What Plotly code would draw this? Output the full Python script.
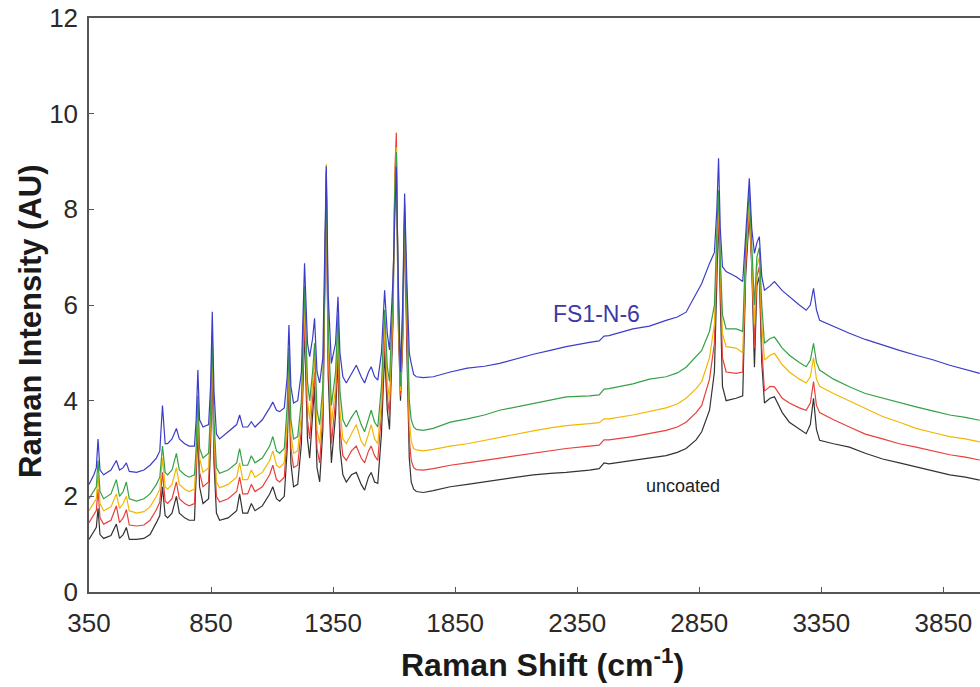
import plotly.graph_objects as go

# Raman shift grid (cm^-1)
shift = [350, 370, 380, 387, 395, 410, 440, 462, 475, 490, 503, 515, 545, 575, 600, 626, 640, 651, 662, 672,
         690, 708, 720, 742, 760, 782, 789, 796, 803, 817, 840, 848, 855, 862, 872, 885, 920, 955, 967, 980,
         1000, 1015, 1030, 1060, 1090, 1103, 1118, 1131, 1150, 1162, 1169, 1177, 1188, 1205, 1220, 1233, 1245, 1254, 1266, 1274,
         1284, 1295, 1308, 1316, 1322, 1330, 1343, 1360, 1370, 1378, 1390, 1404, 1425, 1445, 1465, 1479, 1495, 1506, 1520, 1533,
         1548, 1561, 1572, 1581, 1595, 1603, 1609, 1617, 1626, 1635, 1643, 1652, 1662, 1670, 1680, 1691, 1720, 1760, 1830, 1900,
         1970, 2032, 2100, 2170, 2240, 2305, 2400, 2440, 2460, 2480, 2578, 2646, 2714, 2760, 2796, 2837, 2860, 2892, 2912, 2922,
         2929, 2936, 2945, 2960, 3001, 3028, 3040, 3055, 3065, 3076, 3086, 3096, 3106, 3117, 3140, 3158, 3190, 3219, 3260, 3288,
         3305, 3318, 3330, 3343, 3400, 3465, 3530, 3601, 3670, 3738, 3810, 3876, 3940, 3999]

fs1_n_6 = [2.25, 2.45, 2.6, 3.2, 2.55, 2.45, 2.55, 2.75, 2.55, 2.6, 2.7, 2.52, 2.5, 2.55, 2.65, 2.8, 2.95, 3.9, 3.1, 3.1,
           3.2, 3.42, 3.2, 3.1, 3.05, 3.05, 3.6, 4.64, 3.6, 3.45, 3.5, 4.3, 5.86, 4.2, 3.3, 3.2, 3.35, 3.5, 3.7, 3.45,
           3.45, 3.56, 3.45, 3.6, 3.85, 3.97, 3.8, 3.77, 3.85, 4.5, 5.58, 4.3, 3.95, 4.0, 4.6, 6.87, 5.2, 4.92, 5.3, 5.72,
           4.6, 4.37, 4.9, 7.0, 8.9, 6.2, 4.78, 5.2, 6.17, 5.0, 4.5, 4.37, 4.55, 4.74, 4.5, 4.37, 4.6, 4.71, 4.5, 4.43,
           5.0, 6.31, 5.4, 5.06, 6.5, 8.2, 8.89, 6.5, 4.6, 6.0, 8.33, 6.5, 5.0, 4.78, 4.55, 4.5, 4.48, 4.5, 4.6, 4.68,
           4.72, 4.78, 4.88, 4.97, 5.05, 5.13, 5.22, 5.25, 5.35, 5.36, 5.5, 5.56, 5.68, 5.75, 5.85, 6.25, 6.45, 6.87, 7.1, 8.0,
           9.07, 7.6, 6.8, 6.7, 6.59, 6.49, 7.5, 8.65, 7.6, 7.08, 7.3, 7.43, 6.6, 6.31, 6.4, 6.49, 6.3, 6.17, 6.0, 5.89,
           6.0, 6.35, 5.9, 5.68, 5.55, 5.41, 5.28, 5.16, 5.05, 4.95, 4.85, 4.74, 4.65, 4.57]

green = [1.95, 2.1, 2.2, 2.75, 2.1, 1.95, 2.05, 2.35, 2.0, 2.1, 2.3, 1.95, 1.9, 1.95, 2.05, 2.25, 2.4, 3.05, 2.5, 2.45,
         2.55, 2.9, 2.55, 2.45, 2.4, 2.45, 3.0, 4.1, 3.0, 2.8, 2.9, 3.8, 5.4, 3.6, 2.6, 2.48, 2.55, 2.7, 3.0, 2.65,
         2.65, 2.85, 2.7, 2.8, 3.05, 3.25, 2.95, 2.9, 3.0, 3.9, 5.1, 3.6, 3.2, 3.25, 4.0, 6.4, 4.4, 4.0, 4.6, 5.2,
         3.8, 3.5, 4.3, 6.6, 8.8, 5.5, 3.9, 4.6, 5.8, 4.2, 3.6, 3.45, 3.65, 3.8, 3.5, 3.35, 3.65, 3.8, 3.55, 3.45,
         4.3, 5.9, 4.7, 4.4, 6.2, 8.4, 9.2, 6.3, 4.3, 5.8, 8.1, 6.0, 4.0, 3.6, 3.45, 3.4, 3.38, 3.42, 3.55, 3.62,
         3.7, 3.8, 3.87, 3.95, 4.02, 4.08, 4.1, 4.12, 4.24, 4.25, 4.35, 4.45, 4.5, 4.58, 4.7, 4.92, 5.05, 5.45, 6.0, 7.5,
         8.4, 7.0, 5.8, 5.5, 5.5, 5.45, 7.2, 8.4, 7.3, 6.0, 7.0, 7.2, 6.0, 5.2, 5.3, 5.33, 5.1, 4.95, 4.8, 4.71,
         4.85, 5.2, 4.8, 4.64, 4.45, 4.29, 4.15, 4.05, 3.95, 3.87, 3.78, 3.7, 3.65, 3.59]

orange = [1.7, 1.85, 1.95, 2.45, 1.85, 1.7, 1.78, 2.05, 1.75, 1.85, 2.0, 1.7, 1.65, 1.68, 1.78, 2.0, 2.15, 2.8, 2.2, 2.15,
          2.25, 2.6, 2.25, 2.15, 2.1, 2.15, 2.8, 3.9, 2.8, 2.5, 2.6, 3.6, 5.2, 3.3, 2.3, 2.18, 2.25, 2.4, 2.7, 2.35,
          2.35, 2.55, 2.4, 2.5, 2.75, 2.95, 2.65, 2.6, 2.7, 3.6, 4.9, 3.3, 2.9, 2.95, 3.7, 6.1, 4.0, 3.6, 4.3, 4.9,
          3.4, 3.1, 4.0, 6.4, 8.95, 5.2, 3.5, 4.3, 5.5, 3.8, 3.2, 3.1, 3.3, 3.5, 3.15, 3.05, 3.3, 3.5, 3.2, 3.1,
          4.0, 5.6, 4.4, 4.0, 6.0, 8.6, 9.3, 6.1, 4.2, 5.6, 8.0, 5.7, 3.6, 3.15, 3.0, 2.97, 2.95, 2.98, 3.05, 3.1,
          3.17, 3.24, 3.3, 3.37, 3.43, 3.48, 3.52, 3.54, 3.62, 3.62, 3.7, 3.78, 3.85, 3.93, 4.05, 4.25, 4.4, 4.9, 5.6, 7.3,
          8.2, 6.8, 5.4, 5.13, 5.1, 5.0, 7.0, 8.2, 7.1, 5.6, 6.8, 7.0, 5.6, 4.85, 4.95, 4.99, 4.75, 4.6, 4.45, 4.37,
          4.5, 4.9, 4.45, 4.3, 4.15, 4.0, 3.85, 3.67, 3.55, 3.42, 3.33, 3.25, 3.2, 3.14]

red = [1.45, 1.6, 1.7, 2.15, 1.55, 1.42, 1.5, 1.8, 1.45, 1.55, 1.72, 1.4, 1.38, 1.4, 1.5, 1.72, 1.88, 2.5, 1.9, 1.85,
       1.95, 2.3, 1.95, 1.85, 1.8, 1.85, 2.6, 3.7, 2.5, 2.2, 2.3, 3.4, 5.0, 3.0, 2.0, 1.88, 1.95, 2.1, 2.4, 2.05,
       2.05, 2.25, 2.1, 2.2, 2.45, 2.65, 2.35, 2.3, 2.4, 3.3, 4.7, 3.0, 2.6, 2.65, 3.4, 5.8, 3.6, 3.2, 4.0, 4.6,
       3.0, 2.7, 3.7, 6.2, 8.7, 4.9, 3.1, 4.0, 5.2, 3.4, 2.85, 2.75, 2.95, 3.05, 2.8, 2.7, 2.95, 3.05, 2.85, 2.75,
       3.7, 5.3, 4.1, 3.7, 5.8, 8.8, 9.6, 5.9, 4.1, 5.4, 7.9, 5.4, 3.2, 2.75, 2.6, 2.56, 2.55, 2.58, 2.65, 2.7,
       2.75, 2.8, 2.85, 2.9, 2.95, 3.0, 3.05, 3.07, 3.18, 3.18, 3.25, 3.32, 3.38, 3.45, 3.55, 3.75, 3.9, 4.45, 5.2, 7.0,
       8.1, 6.5, 4.9, 4.6, 4.57, 4.6, 6.8, 8.0, 6.9, 5.1, 6.6, 6.8, 5.1, 4.2, 4.3, 4.29, 4.05, 3.95, 3.85, 3.8,
       3.95, 4.4, 3.9, 3.75, 3.6, 3.45, 3.3, 3.2, 3.1, 3.03, 2.95, 2.87, 2.82, 2.76]

uncoated = [1.1, 1.25, 1.35, 1.75, 1.2, 1.12, 1.18, 1.42, 1.12, 1.2, 1.35, 1.1, 1.1, 1.12, 1.2, 1.45, 1.6, 2.2, 1.6, 1.55,
            1.65, 2.0, 1.65, 1.55, 1.5, 1.5, 2.3, 3.4, 2.2, 1.85, 1.95, 3.1, 4.7, 2.7, 1.65, 1.5, 1.55, 1.7, 2.05, 1.65,
            1.65, 1.85, 1.7, 1.8, 2.05, 2.2, 1.95, 1.9, 2.0, 3.0, 4.4, 2.7, 2.2, 2.25, 3.1, 5.5, 3.2, 2.8, 3.7, 4.3,
            2.6, 2.3, 3.4, 6.0, 8.6, 4.5, 2.7, 3.7, 4.9, 3.0, 2.45, 2.3, 2.45, 2.5, 2.25, 2.13, 2.4, 2.5, 2.3, 2.27,
            3.3, 5.0, 3.8, 3.4, 5.6, 8.5, 9.0, 5.6, 4.0, 5.2, 7.8, 5.1, 2.8, 2.3, 2.15, 2.1, 2.08, 2.12, 2.2, 2.25,
            2.3, 2.35, 2.4, 2.45, 2.48, 2.5, 2.55, 2.58, 2.7, 2.68, 2.75, 2.8, 2.85, 2.92, 3.0, 3.18, 3.35, 3.8, 4.6, 6.5,
            8.0, 6.1, 4.3, 4.0, 4.05, 4.1, 6.6, 7.9, 6.8, 4.7, 6.4, 6.6, 4.8, 3.95, 4.05, 4.08, 3.75, 3.55, 3.4, 3.31,
            3.5, 4.05, 3.4, 3.17, 3.1, 3.03, 2.9, 2.78, 2.7, 2.62, 2.52, 2.45, 2.4, 2.34]

series = [
    ("uncoated", uncoated, "#333333"),
    ("red", red, "#e8403a"),
    ("orange", orange, "#f2b705"),
    ("green", green, "#36a046"),
    ("FS1-N-6", fs1_n_6, "#3c3cc8"),
]

x_ticks = [350, 850, 1350, 1850, 2350, 2850, 3350, 3850]
y_ticks = [0, 2, 4, 6, 8, 10, 12]

fig = go.Figure()
for name, vals, col in series:
    fig.add_trace(go.Scatter(x=shift, y=vals, mode="lines", name=name,
                             line=dict(color=col, width=1.2)))

font_family = "Liberation Sans, Arial, sans-serif"

fig.update_layout(
    width=980, height=687,
    margin=dict(l=89, r=0, t=18, b=95, autoexpand=False),
    paper_bgcolor="white", plot_bgcolor="white",
    showlegend=False,
    font=dict(family=font_family, size=26, color="#2a2a2a"),
)
fig.update_xaxes(range=[350, 4000], tickvals=x_ticks, ticktext=[str(v) for v in x_ticks],
                 automargin=False,
                 showgrid=False, zeroline=False, showline=True, linecolor="#555555", linewidth=1.5,
                 mirror=True, ticks="inside", ticklen=5, tickcolor="#555555",
                 ticklabelstandoff=7, tickfont=dict(size=26, color="#2a2a2a"))
fig.update_yaxes(range=[0, 12], tickvals=y_ticks, ticktext=[str(v) for v in y_ticks],
                 automargin=False,
                 showgrid=False, zeroline=False, showline=True, linecolor="#555555", linewidth=1.5,
                 ticks="inside", ticklen=5, tickcolor="#555555",
                 ticklabelstandoff=4, tickfont=dict(size=26, color="#2a2a2a"))

fig.add_annotation(xref="paper", yref="paper", x=(542 - 89) / 891, y=(592 - 663) / 574,
                   text="<b>Raman Shift (cm<sup>-1</sup>)</b>", showarrow=False,
                   xanchor="center", yanchor="middle", font=dict(size=32, color="#1a1a1a"))
fig.add_annotation(xref="paper", yref="paper", x=(30 - 89) / 891, y=(592 - 322) / 574, textangle=-90,
                   text="<b>Raman Intensity (AU)</b>", showarrow=False,
                   xanchor="center", yanchor="middle", font=dict(size=31, color="#1a1a1a"))
fig.add_annotation(x=2429, y=5.82, text="FS1-N-6", showarrow=False,
                   font=dict(size=23, color="#3a3aaa"), xanchor="center", yanchor="middle")
fig.add_annotation(x=2785, y=2.21, text="uncoated", showarrow=False,
                   font=dict(size=18, color="#222222"), xanchor="center", yanchor="middle")

fig.write_html("out.html", config={"displayModeBar": False},
               post_script="document.body.style.margin='0';document.body.style.overflow='hidden';")
